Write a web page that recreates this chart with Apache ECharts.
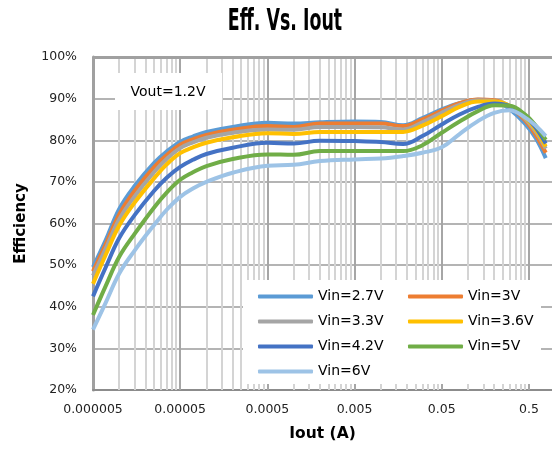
<!DOCTYPE html>
<html>
<head>
<meta charset="utf-8">
<script src="https://cdn.jsdelivr.net/npm/echarts@6/dist/echarts.min.js"></script>
<style>
  html, body { margin: 0; padding: 0; background: #fff; }
  #main { width: 552px; height: 456px; }
</style>
</head>
<body>
<div id="main"></div>
<script>
// Eff. Vs. Iout  (Vout=1.2V)

// load current (A), log scale
var current = [0.000005, 0.000007, 0.00001, 0.000015, 0.000025, 0.000035, 0.00005, 0.00007, 0.0001, 0.0002, 0.0005, 0.001,
  0.002, 0.005, 0.01, 0.018, 0.03, 0.05, 0.08, 0.13, 0.2, 0.3, 0.45, 0.6, 0.78];

// efficiency (%) per input voltage
var vin27 = [49.5, 56, 63.5, 69, 74.5, 77.3, 79.6, 80.9, 82, 83.2, 84.2, 84, 84.3, 84.5, 84.4, 83.6, 85.3, 87.4, 88.9, 89.7, 89.5, 87.5, 84, 80.5, 75.7];
var vin3  = [48.5, 55, 62.2, 67.8, 73.5, 76.4, 78.9, 80.2, 81.3, 82.5, 83.4, 83.2, 84, 84, 84, 83.4, 85, 87.1, 88.9, 89.8, 89.6, 88.1, 84.8, 81.2, 77];
var vin33 = [47.5, 54, 61, 66.5, 72.3, 75.5, 78.1, 79.5, 80.6, 81.8, 82.6, 82.5, 83.2, 83.2, 83.1, 82.6, 84.3, 86.6, 88.5, 89.6, 89.4, 88.3, 85.2, 82, 78];
var vin36 = [45.5, 52.5, 59.5, 65, 70.8, 74.2, 76.9, 78.3, 79.4, 80.7, 81.7, 81.5, 82, 82, 82, 82, 83.5, 85.8, 88, 89.3, 89.3, 88.3, 85.5, 82.5, 78.5];
var vin42 = [42.5, 49.5, 56.5, 62, 67.8, 71, 73.6, 75.3, 76.7, 78.2, 79.4, 79.2, 79.9, 79.8, 79.6, 79.1, 81, 83.8, 86.2, 88, 88.8, 88.2, 85.8, 83, 79.2];
var vin5  = [38, 45, 52, 57.5, 63.8, 67.4, 70.5, 72.3, 73.8, 75.5, 76.6, 76.5, 77.4, 77.4, 77.4, 77.4, 78.8, 81.8, 84.5, 87, 88.4, 88.3, 86.2, 83.5, 80.1];
var vin6  = [34.5, 41, 48, 53.5, 59.6, 63.3, 66.4, 68.4, 70, 72.2, 73.9, 74.1, 75, 75.4, 75.6, 76.2, 77, 78.3, 81.5, 84.6, 86.6, 87.2, 85.5, 83.5, 81];

var seriesNames = ['Vin=2.7V', 'Vin=3V', 'Vin=3.3V', 'Vin=3.6V', 'Vin=4.2V', 'Vin=5V', 'Vin=6V'];
var seriesColors = ['#5b9bd5', '#ed7d31', '#a5a5a5', '#ffc000', '#4472c4', '#70ad47', '#9dc3e6'];
var seriesValues = [vin27, vin3, vin33, vin36, vin42, vin5, vin6];

// x tick labels (decades starting at 5uA)
var xTickValues = [0.000005, 0.00005, 0.0005, 0.005, 0.05, 0.5];
var xTickLabels = ['0.000005', '0.00005', '0.0005', '0.005', '0.05', '0.5'];
var xMin = 0.000005, xMax = 0.92;

// minor grid: 2..9 x each decade base
var xMinorGrid = [];
xTickValues.forEach(function (b) {
  for (var k = 2; k <= 9; k++) {
    if (b * k < xMax) xMinorGrid.push(b * k);
  }
});

var chart = echarts.init(document.getElementById('main'));

var gridLines = [];
xMinorGrid.forEach(function (v) {
  gridLines.push({ xAxis: v, lineStyle: { color: '#d4d4d4', width: 2, type: 'solid' } });
});
xTickValues.forEach(function (v, i) {
  if (i > 0) gridLines.push({ xAxis: v, lineStyle: { color: '#a6a6a6', width: 2, type: 'solid' } });
});
gridLines.push({ yAxis: 100, lineStyle: { color: '#a0a0a0', width: 3, type: 'solid' } });

var series = [{
  name: 'grid',
  type: 'line',
  data: [],
  z: 1,
  silent: true,
  markLine: {
    silent: true,
    z: 1,
    precision: 12,
    symbol: ['none', 'none'],
    label: { show: false },
    animation: false,
    data: gridLines
  }
}];

seriesNames.forEach(function (name, i) {
  series.push({
    name: name,
    type: 'line',
    smooth: 0.4,
    symbol: 'none',
    z: 2,
    lineStyle: { color: seriesColors[i], width: 4 },
    itemStyle: { color: seriesColors[i] },
    data: current.map(function (c, j) { return [c, seriesValues[i][j]]; })
  });
});

var font = 'DejaVu Sans';

var legendBase = {
  orient: 'vertical',
  top: 283,
  icon: 'roundRect',
  itemWidth: 55,
  itemHeight: 4,
  itemGap: 8,
  z: 5,
  textStyle: { fontFamily: font, fontSize: 14, color: '#000', lineHeight: 17 }
};

var option = {
  backgroundColor: '#ffffff',
  animation: false,
  grid: { left: 93, right: 0, top: 57, bottom: 66 },
  xAxis: {
    type: 'log',
    logBase: 10,
    min: xMin,
    max: xMax,
    name: 'Iout (A)',
    nameLocation: 'middle',
    nameGap: 36,
    nameTextStyle: { fontFamily: font, fontWeight: 'bold', fontSize: 15.5, color: '#000' },
    axisLine: { show: true, lineStyle: { color: '#8c8c8c', width: 2 } },
    axisTick: { show: false },
    splitLine: { show: false },
    axisLabel: {
      customValues: xTickValues,
      margin: 13,
      fontFamily: font,
      fontSize: 12.5,
      color: '#222',
      formatter: function (v) {
        var best = 0, bd = Infinity;
        xTickValues.forEach(function (t, i) {
          var d = Math.abs(Math.log(v) - Math.log(t));
          if (d < bd) { bd = d; best = i; }
        });
        return xTickLabels[best];
      }
    }
  },
  yAxis: {
    type: 'value',
    min: 20,
    max: 100,
    interval: 10,
    name: 'Efficiency',
    nameLocation: 'middle',
    nameGap: 64,
    nameTextStyle: { fontFamily: font, fontWeight: 'bold', fontSize: 15, color: '#000' },
    axisLine: { show: true, lineStyle: { color: '#a0a0a0', width: 3 } },
    axisTick: { show: false },
    splitLine: { show: true, lineStyle: { color: '#b4b4b4', width: 2 } },
    axisLabel: { formatter: '{value}%', margin: 16, fontFamily: font, fontSize: 12.5, color: '#222' }
  },
  legend: [
    Object.assign({ left: 253, data: ['Vin=2.7V', 'Vin=3.3V', 'Vin=4.2V', 'Vin=6V'] }, legendBase),
    Object.assign({ left: 403, data: ['Vin=3V', 'Vin=3.6V', 'Vin=5V'] }, legendBase)
  ],
  graphic: [{
    type: 'rect',
    z: 3,
    shape: { x: 243, y: 280, width: 298, height: 104 },
    style: { fill: '#ffffff' }
  }, {
    type: 'rect',
    z: 3,
    shape: { x: 115, y: 73, width: 107, height: 37 },
    style: { fill: '#ffffff' }
  }, {
    type: 'text',
    z: 4,
    x: 168,
    y: 92,
    style: { text: 'Vout=1.2V', fontFamily: font, fontSize: 14, fill: '#000', align: 'center', verticalAlign: 'middle' }
  }, {
    type: 'text',
    z: 4,
    x: 285,
    y: 22,
    scaleX: 0.58,
    style: { text: 'Eff. Vs. Iout', fontFamily: font, fontWeight: 'bold', fontSize: 30, fill: '#000', align: 'center', verticalAlign: 'middle' }
  }],
  series: series
};

chart.setOption(option);
</script>
</body>
</html>
